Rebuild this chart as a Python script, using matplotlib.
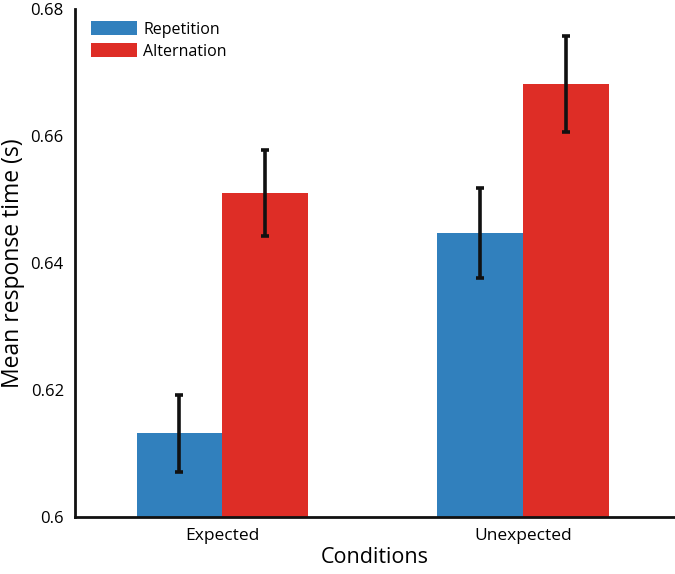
import matplotlib.pyplot as plt
import numpy as np

plt.rcParams['font.family'] = ['Open Sans', 'DejaVu Sans']

conditions = ["Expected", "Unexpected"]
repetition = [0.6132, 0.6448]
repetition_err = [0.0061, 0.0071]
alternation = [0.6511, 0.6682]
alternation_err = [0.0068, 0.0075]
yticks = [0.6, 0.62, 0.64, 0.66, 0.68]
ytick_labels = ["0.6", "0.62", "0.64", "0.66", "0.68"]

fig = plt.figure(figsize=(6.75, 5.74), dpi=100)
ax = fig.add_axes([0.111, 0.099, 0.889, 0.885])

x = np.arange(len(conditions))
w = 0.285
err_kw = dict(ecolor="#111111", elinewidth=2.6, capsize=3, capthick=2.6)
ax.bar(x - w / 2, np.array(repetition) - 0.6, w, bottom=0.6, color="#3180bd",
       yerr=repetition_err, error_kw=err_kw, label="Repetition")
ax.bar(x + w / 2, np.array(alternation) - 0.6, w, bottom=0.6, color="#de2d26",
       yerr=alternation_err, error_kw=err_kw, label="Alternation")

ax.set_xlim(-0.49, 1.505)
ax.set_ylim(0.6, 0.68)
ax.set_xticks(x)
ax.set_xticklabels(conditions, fontsize=12.5)
ax.set_yticks(yticks)
ax.set_yticklabels(ytick_labels, fontsize=12)
ax.tick_params(length=0, pad=8)

for side in ["top", "right"]:
    ax.spines[side].set_visible(False)
for side in ["left", "bottom"]:
    ax.spines[side].set_linewidth(2)
    ax.spines[side].set_color("#111111")

ax.set_ylabel("Mean response time (s)", fontsize=16.5, labelpad=4)
ax.set_xlabel("Conditions", fontsize=15.5, labelpad=2)

ax.legend(loc="upper left", bbox_to_anchor=(0.01, 0.995), frameon=False, fontsize=11.5,
          handlelength=2.9, handleheight=0.95, handletextpad=0.4, labelspacing=0.35,
          borderaxespad=0.2)

fig.savefig("out.png", dpi=100)
